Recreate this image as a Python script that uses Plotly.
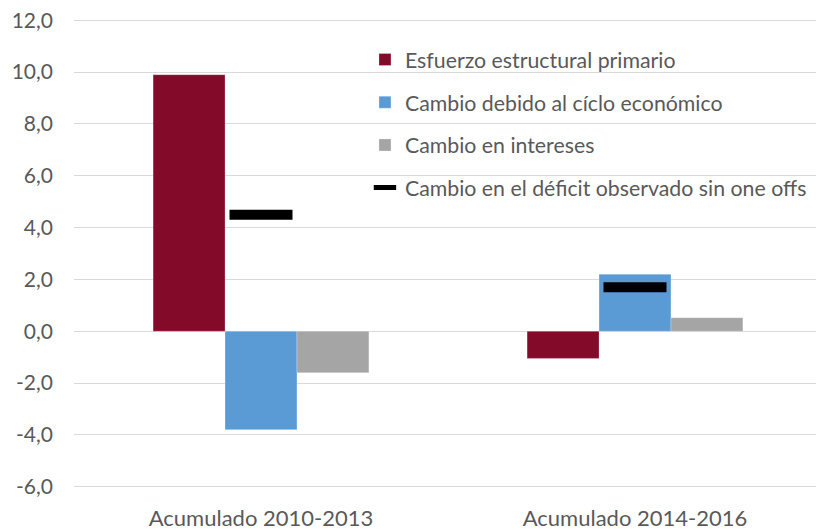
import plotly.graph_objects as go

categories = ["Acumulado 2010-2013", "Acumulado 2014-2016"]
esfuerzo = [9.9, -1.05]
ciclo = [-3.8, 2.2]
intereses = [-1.6, 0.52]
deficit = [4.5, 1.7]

series_names = [
    "Esfuerzo estructural primario",
    "Cambio debido al cíclo económico",
    "Cambio en intereses",
    "Cambio en el déficit observado sin one offs",
]
colors = ["#840A2A", "#5B9BD5", "#A5A5A5", "#000000"]
y_ticks = [-6, -4, -2, 0, 2, 4, 6, 8, 10, 12]
y_ticktext = ["-6,0", "-4,0", "-2,0", "0,0", "2,0", "4,0", "6,0", "8,0", "10,0", "12,0"]

FONT = "Lato"
TXT = "#595959"

fig = go.Figure()
for i, vals in enumerate([esfuerzo, ciclo, intereses]):
    fig.add_trace(go.Bar(
        x=categories, y=vals, name=series_names[i],
        marker=dict(color=colors[i], line=dict(color="rgba(255,255,255,0.5)", width=0.5)),
        legendgroup=f"g{i}",
    ))
fig.add_trace(go.Scatter(
    x=categories, y=deficit, name=series_names[3], mode="markers",
    marker=dict(symbol="line-ew", size=45, color="#000000",
                line=dict(color="#000000", width=10)),
    legendgroup="g3",
))

fig.update_layout(
    width=816, height=522,
    margin=dict(l=66, r=2, t=10.7, b=42, autoexpand=False),
    paper_bgcolor="white", plot_bgcolor="white",
    barmode="group", bargap=0.423, bargroupgap=0,
    font=dict(family=FONT, color=TXT, size=21),
    showlegend=True,
    legend=dict(
        x=0.389, y=0.957, xanchor="left", yanchor="top",
        bgcolor="rgba(0,0,0,0)", font=dict(size=21.3, color=TXT, family=FONT),
        tracegroupgap=12, traceorder="grouped",
    ),
    xaxis=dict(showgrid=False, showline=False, ticks="", tickfont=dict(size=22, color=TXT),
               ticklabelstandoff=15, automargin=False),
    yaxis=dict(range=[-6.05, 12.05], tickvals=y_ticks, ticktext=y_ticktext,
               showgrid=True, gridcolor="#D9D9D9", gridwidth=1.3,
               zeroline=True, zerolinecolor="#D9D9D9", zerolinewidth=1.3,
               showline=False, ticks="", tickfont=dict(size=21, color=TXT),
               ticklabelstandoff=20, automargin=False, ticklabeloverflow="allow"),
)

fig.write_html("out.html")
